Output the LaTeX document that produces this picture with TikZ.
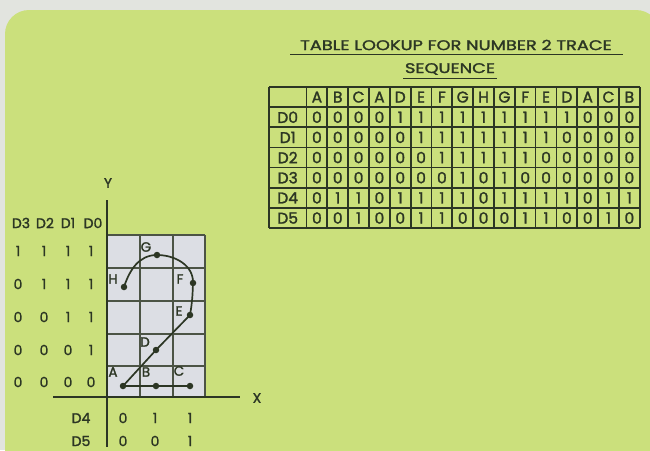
\documentclass[tikz,border=0pt]{standalone}
\usepackage{fontspec}
\usepackage{graphicx}
\setmainfont{Poppins}
\newfontfamily\inkfont{Poppins}[FakeBold=1.6]
\definecolor{bgc}{HTML}{E2E4DF}
\definecolor{card}{HTML}{CBE07C}
\definecolor{ink}{HTML}{2C3624}
\definecolor{gridfill}{HTML}{DCDEE4}
\tikzset{
  txt/.style={inner sep=0pt, text=ink, font=\inkfont\fontsize{14}{14}\selectfont},
  ttxt/.style={inner sep=0pt, text=ink, font=\inkfont\fontsize{15.5}{15.5}\selectfont},
  ptlab/.style={inner sep=0pt, text=ink, font=\inkfont\fontsize{13.5}{13.5}\selectfont},
  titletxt/.style={inner sep=0pt, text=ink, font=\inkfont\fontsize{14}{14}\selectfont},
  dot/.style={circle, fill=ink, inner sep=0pt, minimum size=6.5pt},
  tline/.style={draw=ink, line width=1.7pt},
  gline/.style={draw=ink!85, line width=1.3pt},
  axis/.style={draw=ink, line width=1.6pt},
  trace/.style={draw=ink, line width=1.7pt},
}
\begin{document}
\begin{tikzpicture}[x=1pt,y=-1pt]
\useasboundingbox (0,0) rectangle (650,450);
\fill[bgc] (0,0) rectangle (650,450);
\fill[card, rounded corners=24pt] (5,10) rectangle (660,480);

% ---------- title ----------
\node[titletxt] (title1) at (456,45) {\scalebox{1.27}[1]{TABLE LOOKUP FOR NUMBER 2 TRACE}};
\node[titletxt] (title2) at (450,69) {\scalebox{1.27}[1]{SEQUENCE}};
\draw[ink, line width=1.5pt] (290,54.5) -- (623,54.5);
\draw[ink, line width=1.5pt] (403,78.5) -- (497,78.5);

% ---------- table ----------
\foreach \r in {0,...,7}{
  \draw[tline] (269,87+\r*20.15) -- (639.5,87+\r*20.15);
}
\draw[tline] (269,87) -- (269,228.05);
\foreach \c in {0,...,16}{
  \draw[tline] (306.5+\c*20.83,87) -- (306.5+\c*20.83,228.05);
}
\foreach \l [count=\i] in {A,B,C,A,D,E,F,G,H,G,F,E,D,A,C,B}{
  \node[ttxt] (h\i) at (306.5+\i*20.83-10.4,97.1) {\l};
}
\foreach \lab/\vals [count=\r] in {
  D0/{0,0,0,0,1,1,1,1,1,1,1,1,1,0,0,0},
  D1/{0,0,0,0,0,1,1,1,1,1,1,1,0,0,0,0},
  D2/{0,0,0,0,0,0,1,1,1,1,1,0,0,0,0,0},
  D3/{0,0,0,0,0,0,0,1,0,1,0,0,0,0,0,0},
  D4/{0,1,1,0,1,1,1,1,0,1,1,1,1,0,1,1},
  D5/{0,0,1,0,0,1,1,0,0,0,1,1,0,0,1,0}}{
  \node[ttxt] (rl\r) at (287.7,97.1+\r*20.15) {\lab};
  \foreach \v [count=\c] in \vals {
    \node[ttxt] (c\r-\c) at (306.5+\c*20.83-10.4,97.1+\r*20.15) {\v};
  }
}

% ---------- graph ----------
\fill[gridfill] (107,235) rectangle (205,397);
\foreach \x in {140,173,205}{ \draw[gline] (\x,235) -- (\x,397); }
\foreach \y in {235,268,301,334,366}{ \draw[gline] (107,\y) -- (205,\y); }
\coordinate (ytop) at (107,200);
\coordinate (ybot) at (107,447);
\coordinate (xl) at (53,397);
\coordinate (xr) at (240,397);
\draw[axis] (ytop) -- (ybot);
\draw[axis] (xl) -- (xr);
\node[txt] (ylab) at (108,183) {Y};
\node[txt] (xlab) at (257,398) {X};

% column headers at left
\node[txt] (hd3) at (21,223) {D3};
\node[txt] (hd2) at (45,223) {D2};
\node[txt] (hd1) at (68,223) {D1};
\node[txt] (hd0) at (93,223) {D0};
\foreach \a/\b/\c/\d/\y [count=\k] in {1/1/1/1/251,0/1/1/1/284,0/0/1/1/317,0/0/0/1/350,0/0/0/0/382}{
  \node[txt] (v3-\k) at (18,\y) {\a};
  \node[txt] (v2-\k) at (44,\y) {\b};
  \node[txt] (v1-\k) at (68,\y) {\c};
  \node[txt] (v0-\k) at (91,\y) {\d};
}
% bottom labels
\node[txt] (d4) at (81,418) {D4};
\node[txt] (d5) at (81,441) {D5};
\node[txt] (d4a) at (123,418) {0};
\node[txt] (d4b) at (155,418) {1};
\node[txt] (d4c) at (190,418) {1};
\node[txt] (d5a) at (123,441) {0};
\node[txt] (d5b) at (155,441) {0};
\node[txt] (d5c) at (190,441) {1};

% trace points
\node[dot] (A) at (123,386) {};
\node[dot] (B) at (156,386) {};
\node[dot] (C) at (190,386) {};
\node[dot] (D) at (156,350) {};
\node[dot] (E) at (190,315) {};
\node[dot] (F) at (193,283) {};
\node[dot] (G) at (157,255) {};
\node[dot] (H) at (124,287) {};

\draw[trace] (A.center) -- (B.center) -- (C.center);
\draw[trace] (A.center) -- (D.center) -- (E.center);
\draw[trace] (E.center) to[out=80,in=-92] (F.center) to[out=88,in=0] (G.center) to[out=180,in=72] (H.center);

\node[ptlab] (lA) at (113,372) {A};
\node[ptlab] (lB) at (146,372) {B};
\node[ptlab] (lC) at (179,371) {C};
\node[ptlab] (lD) at (145,342) {D};
\node[ptlab] (lE) at (179,311) {E};
\node[ptlab] (lF) at (180,279) {F};
\node[ptlab] (lG) at (146,247) {G};
\node[ptlab] (lH) at (113,279) {H};
\end{tikzpicture}
\end{document}
